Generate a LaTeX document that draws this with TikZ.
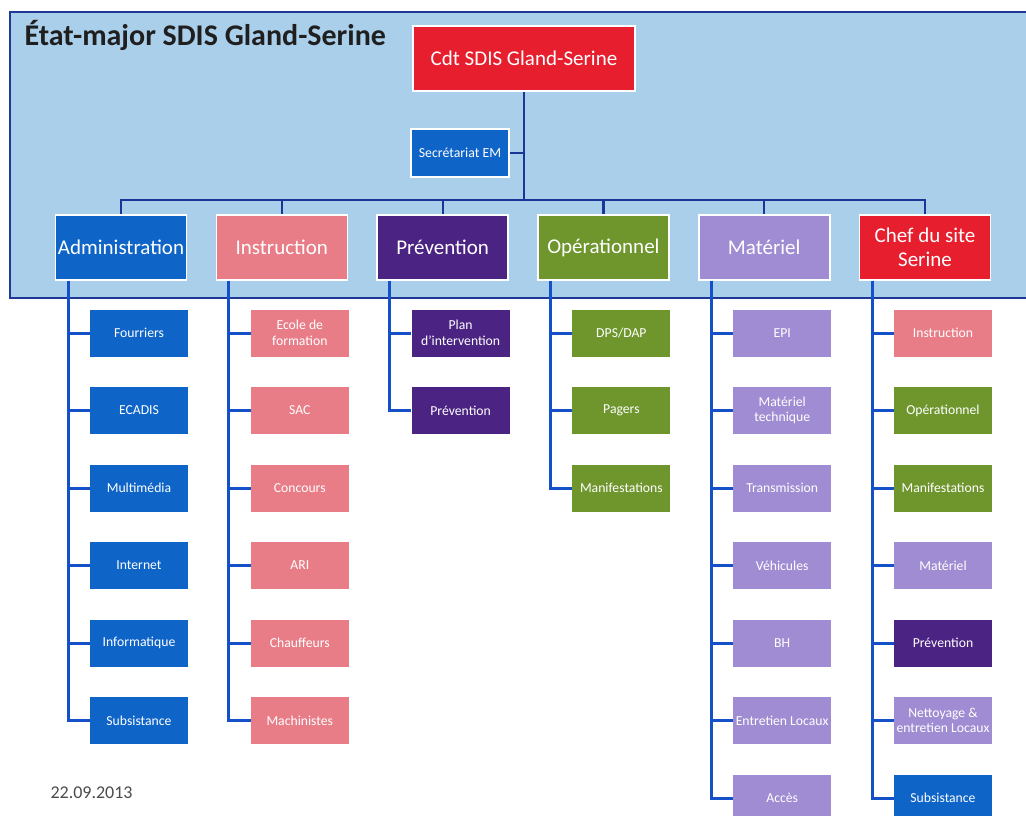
\documentclass[tikz,border=0pt]{standalone}
\usepackage{fontspec}
\setmainfont{Carlito}
\usepackage{tikz}

\definecolor{framefill}{RGB}{170,207,235}
\definecolor{framenavy}{RGB}{30,58,150}
\definecolor{linknavy}{RGB}{25,55,150}
\definecolor{linkblue}{RGB}{20,80,200}
\definecolor{cdtred}{RGB}{230,30,45}
\definecolor{admblue}{RGB}{15,100,200}
\definecolor{instrpink}{RGB}{232,125,135}
\definecolor{prevpurple}{RGB}{75,35,130}
\definecolor{opgreen}{RGB}{110,150,45}
\definecolor{matlav}{RGB}{160,140,210}

\tikzset{
  unit/.style={rectangle, inner sep=1pt, text=white, align=center},
  headunit/.style={unit, draw=white, line width=1.6pt, minimum width=131pt, minimum height=65pt, font=\fontsize{21}{24}\selectfont},
  subunit/.style={unit, minimum width=98pt, minimum height=47pt, font=\fontsize{13.7}{15.5}\selectfont},
  toplink/.style={draw=linknavy, line width=2.2pt},
  sublink/.style={draw=linkblue, line width=3pt},
}

\begin{document}
\begin{tikzpicture}[x=1pt, y=-1pt]
\newcommand{\Colsep}{160.8}; % distance between columns
\newcommand{\Rowsep}{77.5}; % distance between sub units
\newcommand{\Rowtop}{333}; % first row of sub units

\useasboundingbox (0,0) rectangle (1026,815);
\fill[white] (0,0) rectangle (1026,815);

% staff frame
\draw[fill=framefill, draw=framenavy, line width=2pt] (10,12) rectangle (1040,298);
\node[anchor=base west, font=\bfseries\fontsize{30}{34}\selectfont, text=black!88] (Title) at (21,45) {État-major SDIS Gland-Serine};

\node[headunit, fill=cdtred, minimum width=222pt] (Cdt) at (524,58.5) {Cdt SDIS Gland-Serine};
\node[headunit, fill=admblue, minimum width=98pt, minimum height=48pt, font=\fontsize{13.8}{16}\selectfont] (Sec) at (460,153) {Secrétariat EM};

\coordinate (Bus) at (524,200); % meeting point of the bus
\draw[toplink] (Cdt.south) -- (Bus);
\draw[toplink] (Sec.east) -- (Sec.east -| Bus);
%

% services
\foreach \nm/\lbl/\col [count=\i from 0] in {Adm/Administration/admblue, Ins/Instruction/instrpink, Prv/Prévention/prevpurple, Ope/Opérationnel/opgreen, Mat/Matériel/matlav, Chf/{Chef du site\\Serine}/cdtred} {
  \node[headunit, fill=\col] (\nm) at (121 + \i*\Colsep, 247.5) {\lbl};
  \draw[toplink] (Bus) -| (\nm.north);
  \coordinate (\nm-t) at ([xshift=-53pt]\nm.south);
}

% administration
\foreach \lbl [count=\k from 0] in {Fourriers, ECADIS, Multimédia, Internet, Informatique, Subsistance} {
  \node[subunit, fill=admblue] (Adm-\k) at (139, \Rowtop + \k*\Rowsep) {\lbl};
  \draw[sublink] (Adm-t) |- (Adm-\k.west);
}

% instruction
\foreach \lbl [count=\k from 0] in {{Ecole de\\formation}, SAC, Concours, ARI, Chauffeurs, Machinistes} {
  \node[subunit, fill=instrpink] (Ins-\k) at (139 + \Colsep, \Rowtop + \k*\Rowsep) {\lbl};
  \draw[sublink] (Ins-t) |- (Ins-\k.west);
}

% prevention
\foreach \lbl [count=\k from 0] in {{Plan\\d’intervention}, Prévention} {
  \node[subunit, fill=prevpurple] (Prv-\k) at (139 + 2*\Colsep, \Rowtop + \k*\Rowsep) {\lbl};
  \draw[sublink] (Prv-t) |- (Prv-\k.west);
}

% operations
\foreach \lbl [count=\k from 0] in {{DPS/DAP}, Pagers, Manifestations} {
  \node[subunit, fill=opgreen] (Ope-\k) at (139 + 3*\Colsep, \Rowtop + \k*\Rowsep) {\lbl};
  \draw[sublink] (Ope-t) |- (Ope-\k.west);
}

% equipment
\foreach \lbl [count=\k from 0] in {EPI, {Matériel\\technique}, Transmission, Véhicules, BH, Entretien Locaux, Accès} {
  \node[subunit, fill=matlav] (Mat-\k) at (139 + 4*\Colsep, \Rowtop + \k*\Rowsep) {\lbl};
  \draw[sublink] (Mat-t) |- (Mat-\k.west);
}

% site Serine
\foreach \lbl/\col [count=\k from 0] in {Instruction/instrpink, Opérationnel/opgreen, Manifestations/opgreen, Matériel/matlav, Prévention/prevpurple, {Nettoyage \&\\entretien Locaux}/matlav, Subsistance/admblue} {
  \node[subunit, fill=\col] (Chf-\k) at (139 + 5*\Colsep, \Rowtop + \k*\Rowsep) {\lbl};
  \draw[sublink] (Chf-t) |- (Chf-\k.west);
}

\node[anchor=base west, font=\fontsize{18}{20}\selectfont, text=black!70] (Date) at (47,798) {22.09.2013};
\end{tikzpicture}
\end{document}
